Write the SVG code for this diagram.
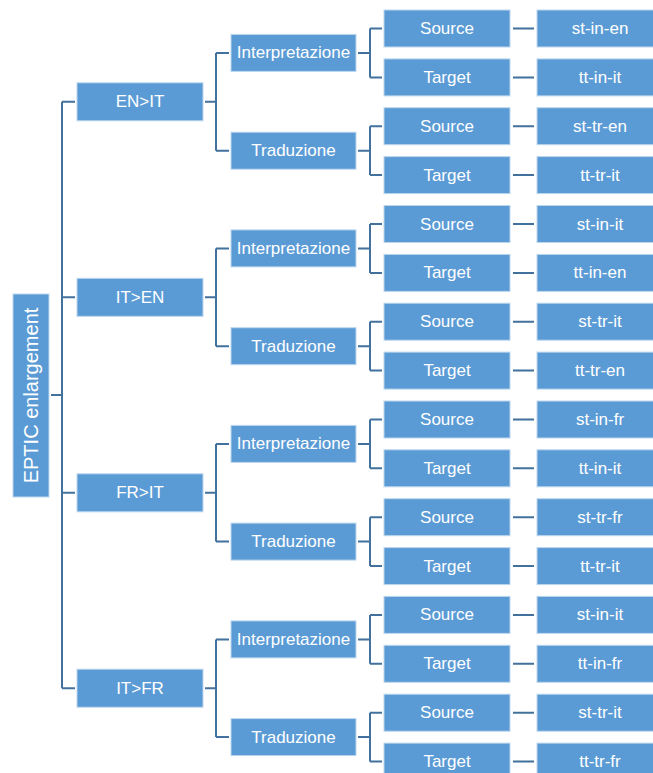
<svg xmlns="http://www.w3.org/2000/svg" width="653" height="773" viewBox="0 0 653 773">
<style>
.b{fill:#5B9BD5;stroke:#BDD7EE;stroke-width:1}
.t{fill:#fff;font-family:"Liberation Sans",Arial,sans-serif;font-size:17px;text-anchor:middle;dominant-baseline:central}
.c{fill:none;stroke:#41719C;stroke-width:2}
</style>
<rect width="653" height="773" fill="#fff"/>
<g id="connectors">
<path class="c" d="M51,395H62M62,101.8V688.2M62,101.8H75M62,297.3H75M62,492.8H75M62,688.2H75"/>
<path class="c" d="M205,101.8H216M216,52.9V150.7M216,52.9H229M216,150.7H229"/>
<path class="c" d="M205,297.3H216M216,248.4V346.2M216,248.4H229M216,346.2H229"/>
<path class="c" d="M205,492.8H216M216,443.9V541.6M216,443.9H229M216,541.6H229"/>
<path class="c" d="M205,688.2H216M216,639.4V737.1M216,639.4H229M216,737.1H229"/>
<path class="c" d="M358,52.9H370M370,28.5V77.4M370,28.5H382M370,77.4H382"/>
<path class="c" d="M358,150.7H370M370,126.2V175.1M370,126.2H382M370,175.1H382"/>
<path class="c" d="M358,248.4H370M370,224V272.9M370,224H382M370,272.9H382"/>
<path class="c" d="M358,346.2H370M370,321.7V370.6M370,321.7H382M370,370.6H382"/>
<path class="c" d="M358,443.9H370M370,419.5V468.3M370,419.5H382M370,468.3H382"/>
<path class="c" d="M358,541.6H370M370,517.2V566.1M370,517.2H382M370,566.1H382"/>
<path class="c" d="M358,639.4H370M370,614.9V663.8M370,614.9H382M370,663.8H382"/>
<path class="c" d="M358,737.1H370M370,712.7V761.6M370,712.7H382M370,761.6H382"/>
<path class="c" d="M513,28.5H534M513,77.4H534M513,126.2H534M513,175.1H534M513,224H534M513,272.9H534M513,321.7H534M513,370.6H534M513,419.5H534M513,468.3H534M513,517.2H534M513,566.1H534M513,614.9H534M513,663.8H534M513,712.7H534M513,761.6H534"/>
</g>
<g id="root"><rect class="b" x="13" y="294" width="36" height="203"/><text class="t" style="font-size:20px" transform="translate(31,395.5) rotate(-90)">EPTIC enlargement</text></g>
<g id="l1-enit"><rect class="b" x="77" y="82.8" width="126" height="38"/><text class="t" x="140" y="101.8">EN&gt;IT</text></g>
<g id="l1-iten"><rect class="b" x="77" y="278.3" width="126" height="38"/><text class="t" x="140" y="297.3">IT&gt;EN</text></g>
<g id="l1-frit"><rect class="b" x="77" y="473.8" width="126" height="38"/><text class="t" x="140" y="492.8">FR&gt;IT</text></g>
<g id="l1-itfr"><rect class="b" x="77" y="669.2" width="126" height="38"/><text class="t" x="140" y="688.2">IT&gt;FR</text></g>
<g id="l2-enit-in"><rect class="b" x="231" y="34.4" width="125" height="37"/><text class="t" x="293.5" y="52.9">Interpretazione</text></g>
<g id="l2-enit-tr"><rect class="b" x="231" y="132.2" width="125" height="37"/><text class="t" x="293.5" y="150.7">Traduzione</text></g>
<g id="l2-iten-in"><rect class="b" x="231" y="229.9" width="125" height="37"/><text class="t" x="293.5" y="248.4">Interpretazione</text></g>
<g id="l2-iten-tr"><rect class="b" x="231" y="327.7" width="125" height="37"/><text class="t" x="293.5" y="346.2">Traduzione</text></g>
<g id="l2-frit-in"><rect class="b" x="231" y="425.4" width="125" height="37"/><text class="t" x="293.5" y="443.9">Interpretazione</text></g>
<g id="l2-frit-tr"><rect class="b" x="231" y="523.1" width="125" height="37"/><text class="t" x="293.5" y="541.6">Traduzione</text></g>
<g id="l2-itfr-in"><rect class="b" x="231" y="620.9" width="125" height="37"/><text class="t" x="293.5" y="639.4">Interpretazione</text></g>
<g id="l2-itfr-tr"><rect class="b" x="231" y="718.6" width="125" height="37"/><text class="t" x="293.5" y="737.1">Traduzione</text></g>
<g id="l3-0"><rect class="b" x="384" y="10" width="126" height="37"/><text class="t" x="447" y="28.5">Source</text></g>
<g id="l3-1"><rect class="b" x="384" y="58.9" width="126" height="37"/><text class="t" x="447" y="77.4">Target</text></g>
<g id="l3-2"><rect class="b" x="384" y="107.7" width="126" height="37"/><text class="t" x="447" y="126.2">Source</text></g>
<g id="l3-3"><rect class="b" x="384" y="156.6" width="126" height="37"/><text class="t" x="447" y="175.1">Target</text></g>
<g id="l3-4"><rect class="b" x="384" y="205.5" width="126" height="37"/><text class="t" x="447" y="224">Source</text></g>
<g id="l3-5"><rect class="b" x="384" y="254.4" width="126" height="37"/><text class="t" x="447" y="272.9">Target</text></g>
<g id="l3-6"><rect class="b" x="384" y="303.2" width="126" height="37"/><text class="t" x="447" y="321.7">Source</text></g>
<g id="l3-7"><rect class="b" x="384" y="352.1" width="126" height="37"/><text class="t" x="447" y="370.6">Target</text></g>
<g id="l3-8"><rect class="b" x="384" y="401" width="126" height="37"/><text class="t" x="447" y="419.5">Source</text></g>
<g id="l3-9"><rect class="b" x="384" y="449.8" width="126" height="37"/><text class="t" x="447" y="468.3">Target</text></g>
<g id="l3-10"><rect class="b" x="384" y="498.7" width="126" height="37"/><text class="t" x="447" y="517.2">Source</text></g>
<g id="l3-11"><rect class="b" x="384" y="547.6" width="126" height="37"/><text class="t" x="447" y="566.1">Target</text></g>
<g id="l3-12"><rect class="b" x="384" y="596.4" width="126" height="37"/><text class="t" x="447" y="614.9">Source</text></g>
<g id="l3-13"><rect class="b" x="384" y="645.3" width="126" height="37"/><text class="t" x="447" y="663.8">Target</text></g>
<g id="l3-14"><rect class="b" x="384" y="694.2" width="126" height="37"/><text class="t" x="447" y="712.7">Source</text></g>
<g id="l3-15"><rect class="b" x="384" y="743.1" width="126" height="37"/><text class="t" x="447" y="761.6">Target</text></g>
<g id="leaf-0"><rect class="b" x="537" y="10" width="126" height="37"/><text class="t" x="600" y="28.5">st-in-en</text></g>
<g id="leaf-1"><rect class="b" x="537" y="58.9" width="126" height="37"/><text class="t" x="600" y="77.4">tt-in-it</text></g>
<g id="leaf-2"><rect class="b" x="537" y="107.7" width="126" height="37"/><text class="t" x="600" y="126.2">st-tr-en</text></g>
<g id="leaf-3"><rect class="b" x="537" y="156.6" width="126" height="37"/><text class="t" x="600" y="175.1">tt-tr-it</text></g>
<g id="leaf-4"><rect class="b" x="537" y="205.5" width="126" height="37"/><text class="t" x="600" y="224">st-in-it</text></g>
<g id="leaf-5"><rect class="b" x="537" y="254.4" width="126" height="37"/><text class="t" x="600" y="272.9">tt-in-en</text></g>
<g id="leaf-6"><rect class="b" x="537" y="303.2" width="126" height="37"/><text class="t" x="600" y="321.7">st-tr-it</text></g>
<g id="leaf-7"><rect class="b" x="537" y="352.1" width="126" height="37"/><text class="t" x="600" y="370.6">tt-tr-en</text></g>
<g id="leaf-8"><rect class="b" x="537" y="401" width="126" height="37"/><text class="t" x="600" y="419.5">st-in-fr</text></g>
<g id="leaf-9"><rect class="b" x="537" y="449.8" width="126" height="37"/><text class="t" x="600" y="468.3">tt-in-it</text></g>
<g id="leaf-10"><rect class="b" x="537" y="498.7" width="126" height="37"/><text class="t" x="600" y="517.2">st-tr-fr</text></g>
<g id="leaf-11"><rect class="b" x="537" y="547.6" width="126" height="37"/><text class="t" x="600" y="566.1">tt-tr-it</text></g>
<g id="leaf-12"><rect class="b" x="537" y="596.4" width="126" height="37"/><text class="t" x="600" y="614.9">st-in-it</text></g>
<g id="leaf-13"><rect class="b" x="537" y="645.3" width="126" height="37"/><text class="t" x="600" y="663.8">tt-in-fr</text></g>
<g id="leaf-14"><rect class="b" x="537" y="694.2" width="126" height="37"/><text class="t" x="600" y="712.7">st-tr-it</text></g>
<g id="leaf-15"><rect class="b" x="537" y="743.1" width="126" height="37"/><text class="t" x="600" y="761.6">tt-tr-fr</text></g>
</svg>
